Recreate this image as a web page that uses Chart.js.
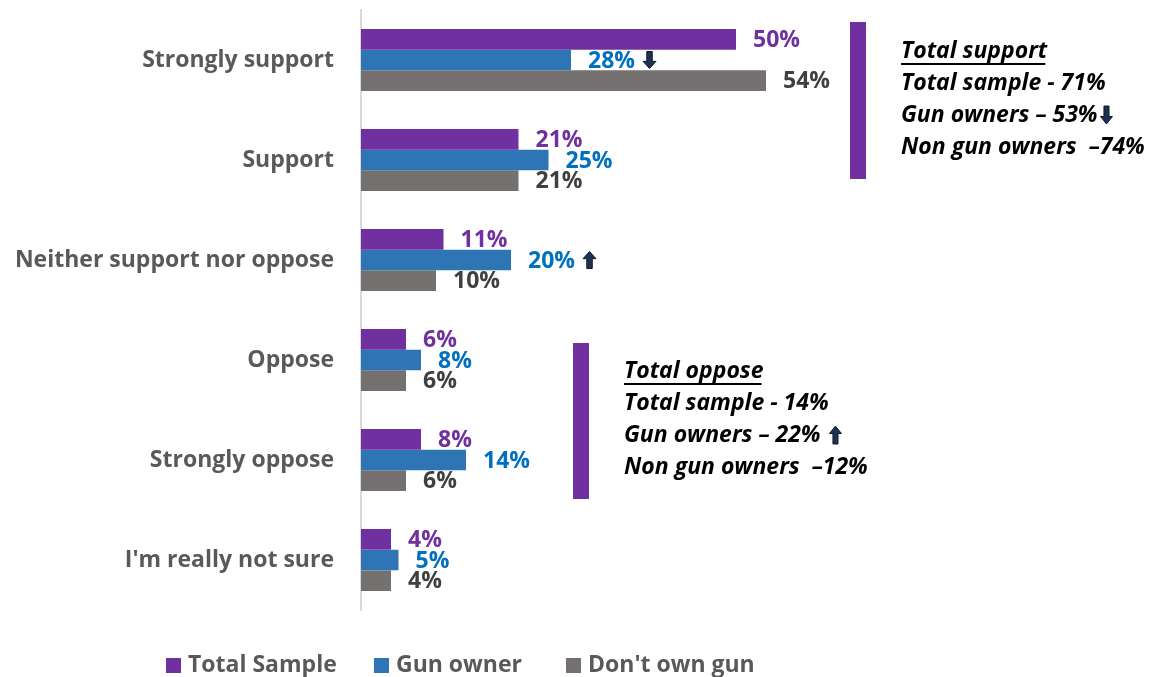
<!DOCTYPE html>
<html>
<head>
<meta charset="utf-8">
<script src="https://cdn.jsdelivr.net/npm/chart.js@4/dist/chart.umd.min.js"></script>
<style>
html,body{margin:0;padding:0;background:#fff;}
#wrap{width:1170px;height:677px;position:relative;}
</style>
</head>
<body>
<div id="wrap"><canvas id="c" width="1170" height="677"></canvas></div>
<script>
const categories = ["Strongly support", "Support", "Neither support nor oppose", "Oppose", "Strongly oppose", "I'm really not sure"];
const seriesNames = ["Total Sample", "Gun owner", "Don't own gun"];
const totalSample = [50, 21, 11, 6, 8, 4];
const gunOwner = [28, 25, 20, 8, 14, 5];
const dontOwnGun = [54, 21, 10, 6, 6, 4];
const gunOwnerSig = ["down", "", "up", "", "", ""];
const supportTitle = "Total support";
const supportLines = ["Total sample - 71%", "Gun owners \u2013 53%", "Non gun owners  \u201374%"];
const supportSig = ["", "down", ""];
const opposeTitle = "Total oppose";
const opposeLines = ["Total sample - 14%", "Gun owners \u2013 22% ", "Non gun owners  \u201312%"];
const opposeSig = ["", "up", ""];

const barColors = ["#7030A0", "#2E75B6", "#767171"];
const labelColors = ["#7030A0", "#0070C0", "#404040"];
const FONT = "'Open Sans', 'Noto Sans', sans-serif";

function drawArrow(ctx, x, y, dir, w, h) {
  const shaft = w * 0.42;
  const headH = h * 0.42;
  ctx.save();
  ctx.fillStyle = "#1F3050";
  ctx.strokeStyle = "#0E1A2E";
  ctx.lineWidth = 1;
  ctx.beginPath();
  const cx = x + w / 2, top = y - h / 2, bot = y + h / 2;
  if (dir === "down") {
    ctx.moveTo(cx - shaft / 2, top);
    ctx.lineTo(cx + shaft / 2, top);
    ctx.lineTo(cx + shaft / 2, bot - headH);
    ctx.lineTo(x + w, bot - headH);
    ctx.lineTo(cx, bot);
    ctx.lineTo(x, bot - headH);
    ctx.lineTo(cx - shaft / 2, bot - headH);
  } else {
    ctx.moveTo(cx - shaft / 2, bot);
    ctx.lineTo(cx + shaft / 2, bot);
    ctx.lineTo(cx + shaft / 2, top + headH);
    ctx.lineTo(x + w, top + headH);
    ctx.lineTo(cx, top);
    ctx.lineTo(x, top + headH);
    ctx.lineTo(cx - shaft / 2, top + headH);
  }
  ctx.closePath();
  ctx.fill();
  ctx.stroke();
  ctx.restore();
}

const labelPlugin = {
  id: "valueLabels",
  afterDatasetsDraw(chart) {
    const ctx = chart.ctx;
    ctx.save();
    ctx.font = "bold 23px " + FONT;
    ctx.textBaseline = "middle";
    ctx.textAlign = "left";
    chart.data.datasets.forEach((ds, di) => {
      const meta = chart.getDatasetMeta(di);
      meta.data.forEach((bar, i) => {
        const txt = ds.data[i] + "%";
        ctx.fillStyle = labelColors[di];
        const tx = bar.x + 17;
        ctx.fillText(txt, tx, bar.y + 1);
        if (di === 1 && gunOwnerSig[i]) {
          const w = ctx.measureText(txt).width;
          drawArrow(ctx, tx + w + 8, bar.y + 0, gunOwnerSig[i], 13, 17);
        }
      });
    });
    ctx.restore();
  }
};

function drawNote(ctx, barX, barTop, barBottom, textX, firstY, title, lines, sig) {
  ctx.save();
  ctx.fillStyle = "#7030A0";
  ctx.fillRect(barX, barTop, 16, barBottom - barTop);
  ctx.fillStyle = "#000";
  ctx.font = "italic bold 23px " + FONT;
  ctx.textBaseline = "middle";
  ctx.textAlign = "left";
  ctx.fillText(title, textX, firstY);
  const tw = ctx.measureText(title).width;
  ctx.fillRect(textX, firstY + 12, tw - 2, 2);
  lines.forEach((l, k) => {
    const y = firstY + 32 * (k + 1);
    ctx.fillText(l, textX, y);
    if (sig[k]) {
      const w = ctx.measureText(l).width;
      drawArrow(ctx, textX + w + 3, y, sig[k], 12, 18);
    }
  });
  ctx.restore();
}

const notesPlugin = {
  id: "notes",
  afterDraw(chart) {
    const ctx = chart.ctx;
    drawNote(ctx, 850, 22, 179, 901, 51, supportTitle, supportLines, supportSig);
    drawNote(ctx, 573, 343, 499, 624, 371, opposeTitle, opposeLines, opposeSig);
    ctx.save();
    ctx.font = "bold 23px " + FONT;
    ctx.textBaseline = "middle";
    ctx.textAlign = "left";
    const starts = [166, 374, 566];
    chart.data.datasets.forEach((ds, di) => {
      ctx.fillStyle = barColors[di];
      ctx.fillRect(starts[di], 658, 15, 15);
      ctx.fillStyle = "#595959";
      ctx.fillText(ds.label, starts[di] + 22, 665);
    });
    ctx.restore();
  }
};

new Chart(document.getElementById("c"), {
  type: "bar",
  data: {
    labels: categories,
    datasets: [
      { label: seriesNames[0], data: totalSample, backgroundColor: barColors[0] },
      { label: seriesNames[1], data: gunOwner, backgroundColor: barColors[1] },
      { label: seriesNames[2], data: dontOwnGun, backgroundColor: barColors[2] }
    ]
  },
  options: {
    indexAxis: "y",
    responsive: false,
    animation: false,
    events: [],
    categoryPercentage: 0.62,
    barPercentage: 1.0,
    layout: { padding: { left: 0, right: 59, top: 10, bottom: 67 } },
    plugins: { legend: { display: false }, tooltip: { enabled: false } },
    scales: {
      x: { display: false, min: 0, max: 100 },
      y: {
        grid: { display: false, drawTicks: false },
        border: { display: true, color: "#D9D9D9", width: 2 },
        ticks: { font: { family: FONT, size: 23, weight: "bold" }, color: "#595959", padding: 27 },
        afterFit(scale) { scale.width = 361; scale.paddingTop = 0; scale.paddingBottom = 0; }
      }
    }
  },
  plugins: [labelPlugin, notesPlugin]
});
</script>
</body>
</html>
